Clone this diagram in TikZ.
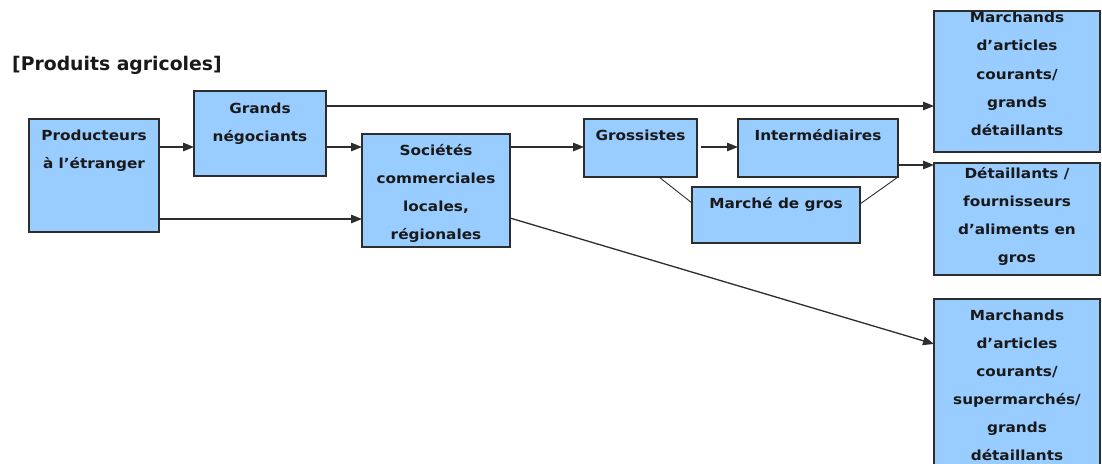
\documentclass[tikz,border=0pt]{standalone}
\usepackage{fontspec}
\setmainfont{DejaVu Sans}
\newfontfamily\boxfont[FakeStretch=1.1]{DejaVu Sans}
\usetikzlibrary{arrows.meta}
\definecolor{boxfill}{RGB}{153,204,255}
\definecolor{edgegray}{RGB}{45,45,45}
\newcommand{\boxlines}[1]{{\setlength{\tabcolsep}{0pt}\begin{tabular}[t]{c}#1\end{tabular}}}
\tikzset{
  flowbox/.style={draw=edgegray, line width=1.3pt, fill=boxfill, anchor=north west,
    inner sep=0pt, outer sep=0pt},
  boxtext/.style={anchor=base, inner sep=0pt,
    font=\boxfont\bfseries\fontsize{13.9}{28}\selectfont, text=black!90},
  link/.style={draw=edgegray, line width=1.3pt},
  arrow/.style={link, -{Triangle[length=11pt,width=8.5pt]}}
}
\begin{document}
\begin{tikzpicture}[x=1pt,y=-1pt]
\useasboundingbox (0,0) rectangle (1102,463);
\clip (0,0) rectangle (1102,463);

% title
\node[anchor=base west, inner sep=0pt, font=\bfseries\fontsize{18.8}{22}\selectfont,
  text=black!90] (title) at (12,70) {[Produits agricoles]};

% boxes: top-left corner, width, height
\node[flowbox, minimum width=130pt, minimum height=113pt] (prod)  at (29,119) {};
\node[flowbox, minimum width=132pt, minimum height=85pt]  (neg)   at (194,91) {};
\node[flowbox, minimum width=148pt, minimum height=113pt] (soc)   at (362,134) {};
\node[flowbox, minimum width=113pt, minimum height=58pt]  (gross) at (584,119) {};
\node[flowbox, minimum width=160pt, minimum height=58pt]  (inter) at (738,119) {};
\node[flowbox, minimum width=168pt, minimum height=56pt]  (gros)  at (692,187) {};
\node[flowbox, minimum width=166pt, minimum height=141pt] (retA)  at (934,11) {};
\node[flowbox, minimum width=166pt, minimum height=112pt] (retB)  at (934,163) {};
\node[flowbox, minimum width=166pt, minimum height=175pt] (retC)  at (934,299) {};

% box labels (first baseline given)
\node[boxtext] (tprod)  at (prod.north |- 0,140)  {\boxlines{Producteurs\\à l’étranger}};
\node[boxtext] (tneg)   at (neg.north |- 0,113)   {\boxlines{Grands\\négociants}};
\node[boxtext] (tsoc)   at (soc.north |- 0,155)   {\boxlines{Sociétés\\commerciales\\locales,\\régionales}};
\node[boxtext] (tgross) at (gross.north |- 0,140) {\boxlines{Grossistes}};
\node[boxtext] (tinter) at (inter.north |- 0,140) {\boxlines{Intermédiaires}};
\node[boxtext] (tgros)  at (gros.north |- 0,208)  {\boxlines{Marché de gros}};
\node[boxtext] (tretA)  at (retA.north |- 0,23)   {\boxlines{Marchands\\d’articles\\courants/\\grands\\détaillants}};
\node[boxtext] (tretB)  at (retB.north |- 0,178)  {\boxlines{Détaillants /\\fournisseurs\\d’aliments en\\gros}};
\node[boxtext] (tretC)  at (retC.north |- 0,320)  {\boxlines{Marchands\\d’articles\\courants/\\supermarchés/\\grands\\détaillants}};

% connector levels
\coordinate (lvA) at (0,147);
\coordinate (lvB) at (0,219);
\coordinate (lvC) at (0,106);
\coordinate (lvD) at (0,165);
\coordinate (lvE) at (0,218);
\coordinate (lvF) at (0,344);
\coordinate (lvG) at (0,203);
\coordinate (lvH) at (0,204);

% connectors
\draw[arrow] (prod.east |- lvA) -- (neg.west |- lvA);
\draw[arrow] (prod.east |- lvB) -- (soc.west |- lvB);
\draw[arrow] (neg.east |- lvA) -- (soc.west |- lvA);
\draw[arrow] (neg.east |- lvC) -- (retA.west |- lvC);
\draw[arrow] (soc.east |- lvA) -- (gross.west |- lvA);
\draw[arrow, shorten <=4pt] (gross.east |- lvA) -- (inter.west |- lvA);
\draw[arrow] (inter.east |- lvD) -- (retB.west |- lvD);
\draw[arrow] (soc.east |- lvE) -- (retC.west |- lvF);
\draw[link, line width=0.9pt] ([xshift=18.5pt]gross.south) -- (gros.west |- lvG);
\draw[link, line width=0.9pt] (inter.south east) -- (gros.east |- lvH);
\end{tikzpicture}
\end{document}
